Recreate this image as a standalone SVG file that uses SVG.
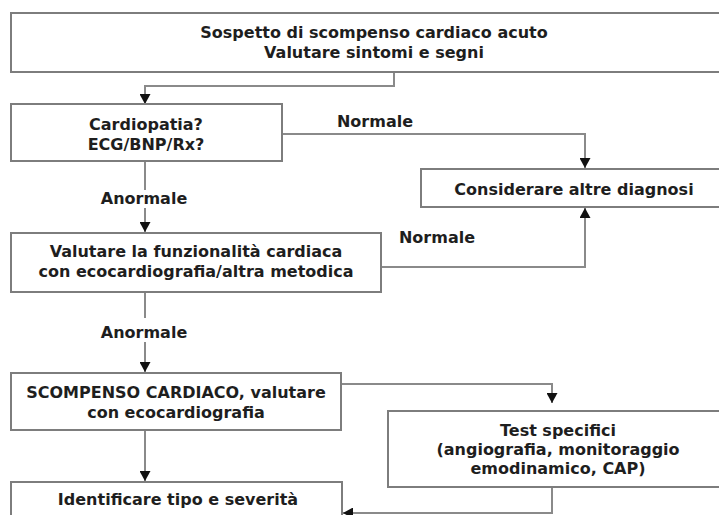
<svg xmlns="http://www.w3.org/2000/svg" width="719" height="515" viewBox="0 0 719 515">
<defs>
<style>
.box{fill:#fff;stroke:#7d7d7d;stroke-width:2}
.t{font-family:"DejaVu Sans",Verdana,sans-serif;font-weight:bold;font-size:16px;fill:#1e1e1e;text-anchor:middle}
.c{fill:none;stroke:#8a8a8a;stroke-width:2}
</style>
<marker id="ah" markerUnits="userSpaceOnUse" markerWidth="11" markerHeight="11" refX="10" refY="5.5" orient="auto">
<path d="M0,0 L10,5.5 L0,11 z" fill="#111"/>
</marker>
</defs>
<rect width="719" height="515" fill="#fff"/>
<g id="connectors">
<path class="c" d="M394,72 V86 H145 V104" marker-end="url(#ah)"/>
<path class="c" d="M282,134 H585 V168" marker-end="url(#ah)"/>
<path class="c" d="M145,161 V190"/>
<path class="c" d="M145,208 V232" marker-end="url(#ah)"/>
<path class="c" d="M381,267 H585 V208" marker-end="url(#ah)"/>
<path class="c" d="M145,292 V318"/>
<path class="c" d="M145,342 V372" marker-end="url(#ah)"/>
<path class="c" d="M341,384 H552 V403" marker-end="url(#ah)"/>
<path class="c" d="M145,430 V481" marker-end="url(#ah)"/>
<path class="c" d="M552,487 V513 H343" marker-end="url(#ah)"/>
<text class="t" x="375" y="127">Normale</text>
<text class="t" x="144" y="204">Anormale</text>
<text class="t" x="437" y="243">Normale</text>
<text class="t" x="144" y="338">Anormale</text>
</g>
<g id="n-sospetto">
<rect class="box" x="11" y="13" width="730" height="59"/>
<text class="t" x="374" y="38">Sospetto di scompenso cardiaco acuto</text>
<text class="t" x="374" y="58">Valutare sintomi e segni</text>
</g>
<g id="n-cardiopatia">
<rect class="box" x="11" y="104" width="271" height="57"/>
<text class="t" x="146" y="130">Cardiopatia?</text>
<text class="t" x="146" y="150">ECG/BNP/Rx?</text>
</g>
<g id="n-considerare">
<rect class="box" x="421" y="169" width="320" height="38"/>
<text class="t" x="574" y="195">Considerare altre diagnosi</text>
</g>
<g id="n-valutare">
<rect class="box" x="11" y="233" width="370" height="59"/>
<text class="t" x="196" y="257">Valutare la funzionalità cardiaca</text>
<text class="t" x="196" y="277">con ecocardiografia/altra metodica</text>
</g>
<g id="n-scompenso">
<rect class="box" x="11" y="373" width="330" height="57"/>
<text class="t" x="176" y="398">SCOMPENSO CARDIACO, valutare</text>
<text class="t" x="176" y="418">con ecocardiografia</text>
</g>
<g id="n-test">
<rect class="box" x="388" y="411" width="350" height="76"/>
<text class="t" x="558" y="436">Test specifici</text>
<text class="t" x="558" y="455">(angiografia, monitoraggio</text>
<text class="t" x="558" y="474">emodinamico, CAP)</text>
</g>
<g id="n-identificare">
<rect class="box" x="11" y="482" width="331" height="45"/>
<text class="t" x="178" y="505">Identificare tipo e severità</text>
</g>
</svg>
